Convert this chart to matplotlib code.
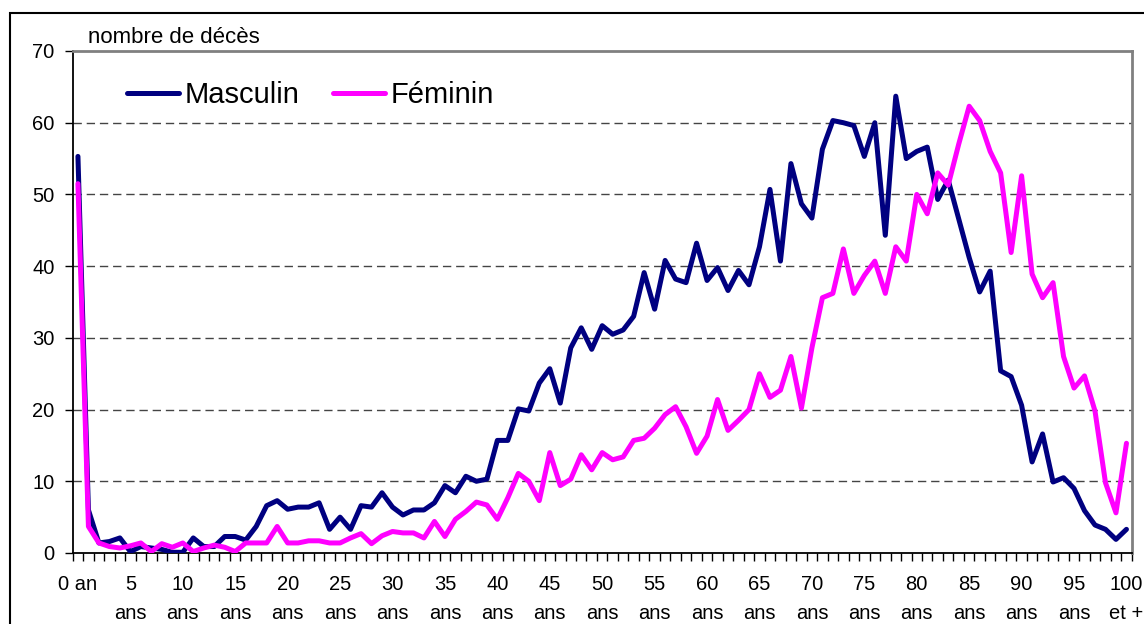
import matplotlib
matplotlib.use("Agg")
import matplotlib.pyplot as plt
from matplotlib.patches import Rectangle

plt.rcParams['font.family'] = ['Liberation Sans', 'DejaVu Sans']

# Data: number of deaths by age (0 to 100 et +)
ages = list(range(101))
masculin = [55.3, 6.0, 1.4, 1.6, 2.1, 0.2, 0.9, 0.7, 0.5, 0.1,
            0.1, 2.1, 0.9, 0.9, 2.3, 2.3, 1.8, 3.7, 6.6, 7.3,
            6.1, 6.4, 6.4, 7.0, 3.3, 5.0, 3.3, 6.6, 6.4, 8.4,
            6.4, 5.3, 6.0, 6.0, 7.0, 9.4, 8.4, 10.7, 10.0, 10.3,
            15.7, 15.7, 20.1, 19.8, 23.7, 25.7, 20.9, 28.6, 31.4, 28.4,
            31.7, 30.5, 31.1, 33.0, 39.1, 34.0, 40.8, 38.2, 37.7, 43.2,
            38.0, 39.8, 36.6, 39.4, 37.4, 42.7, 50.7, 40.7, 54.3, 48.7,
            46.7, 56.3, 60.3, 60.0, 59.6, 55.3, 60.0, 44.3, 63.7, 55.0,
            56.0, 56.6, 49.3, 52.0, 46.6, 41.2, 36.4, 39.3, 25.4, 24.6,
            20.6, 12.7, 16.6, 9.9, 10.5, 9.0, 5.9, 3.9, 3.3, 1.9,
            3.3]
feminin = [51.5, 3.7, 1.4, 0.9, 0.7, 1.0, 1.4, 0.2, 1.3, 0.8,
           1.4, 0.2, 0.7, 1.1, 0.8, 0.2, 1.4, 1.4, 1.4, 3.7,
           1.4, 1.4, 1.7, 1.7, 1.4, 1.4, 2.1, 2.7, 1.3, 2.4,
           3.0, 2.8, 2.8, 2.1, 4.4, 2.3, 4.7, 5.8, 7.1, 6.7,
           4.7, 7.7, 11.1, 10.0, 7.3, 14.0, 9.4, 10.3, 13.7, 11.6,
           14.0, 13.0, 13.4, 15.7, 16.0, 17.4, 19.3, 20.4, 17.6, 13.9,
           16.3, 21.4, 17.1, 18.5, 20.0, 25.0, 21.7, 22.7, 27.4, 20.2,
           28.6, 35.6, 36.2, 42.4, 36.2, 38.7, 40.7, 36.2, 42.7, 40.7,
           50.0, 47.3, 53.0, 51.3, 57.0, 62.3, 60.3, 56.0, 53.0, 41.9,
           52.6, 38.9, 35.6, 37.7, 27.4, 23.0, 24.7, 19.8, 9.8, 5.6,
           15.3]
label_ages = list(range(0, 101, 5))
label_texts = ['0 an'] + [f'{a}\nans' for a in range(5, 100, 5)] + ['100\net +']

W, H = 1144, 624
fig = plt.figure(figsize=(W / 100, H / 100), dpi=100)
ax = fig.add_axes([72.7 / W, 1 - 553 / H, (1131.7 - 72.7) / W, (553 - 51) / H])

# outer chart frame (runs off the picture on the right and bottom)
fig.patches.append(Rectangle((10 / W, -0.2), 1.2, 1 - 13 / H + 0.2, transform=fig.transFigure,
                             fill=False, edgecolor='black', lw=1.5, clip_on=False))

for y in range(10, 70, 10):
    ax.axhline(y, color='#444444', lw=1.0, linestyle=(0, (6, 3.5)), zorder=1)

ax.plot(ages, masculin, color='#000080', lw=3.6, label='Masculin',
        solid_joinstyle='round', solid_capstyle='round', zorder=3)
ax.plot(ages, feminin, color='#FF00FF', lw=3.6, label='Féminin',
        solid_joinstyle='round', solid_capstyle='round', zorder=3)

ax.set_xlim(-0.5, 100.5)
ax.set_ylim(0, 70)

ax.set_yticks(range(0, 71, 10))
ax.tick_params(axis='y', direction='out', length=6, width=1, labelsize=14.5, pad=7)

ax.set_xticks(label_ages)
ax.set_xticklabels(label_texts)
ax.set_xticks([a - 0.5 for a in range(102)], minor=True)
ax.tick_params(axis='x', which='major', length=0, labelsize=14.5, pad=15.5)
ax.tick_params(axis='x', which='minor', direction='out', length=6, width=1)
for lbl in ax.get_xticklabels():
    lbl.set_linespacing(1.7)
    lbl.set_verticalalignment('top')

ax.spines['left'].set_color('black')
ax.spines['bottom'].set_color('black')
ax.spines['left'].set_linewidth(1.3)
ax.spines['bottom'].set_linewidth(1.3)
ax.spines['top'].set_color('#808080')
ax.spines['right'].set_color('#808080')
ax.spines['top'].set_linewidth(2)
ax.spines['right'].set_linewidth(2)

fig.text(88 / W, 1 - 43 / H, 'nombre de décès', fontsize=16, va='baseline', ha='left')

ax.legend(loc='center left', bbox_to_anchor=(127 / W, 1 - 95 / H), bbox_transform=fig.transFigure,
          ncol=2, frameon=False, fontsize=21, handlelength=1.78, handletextpad=0.2,
          columnspacing=1.15, borderpad=0, borderaxespad=0)

fig.savefig('out.png', dpi=100)
